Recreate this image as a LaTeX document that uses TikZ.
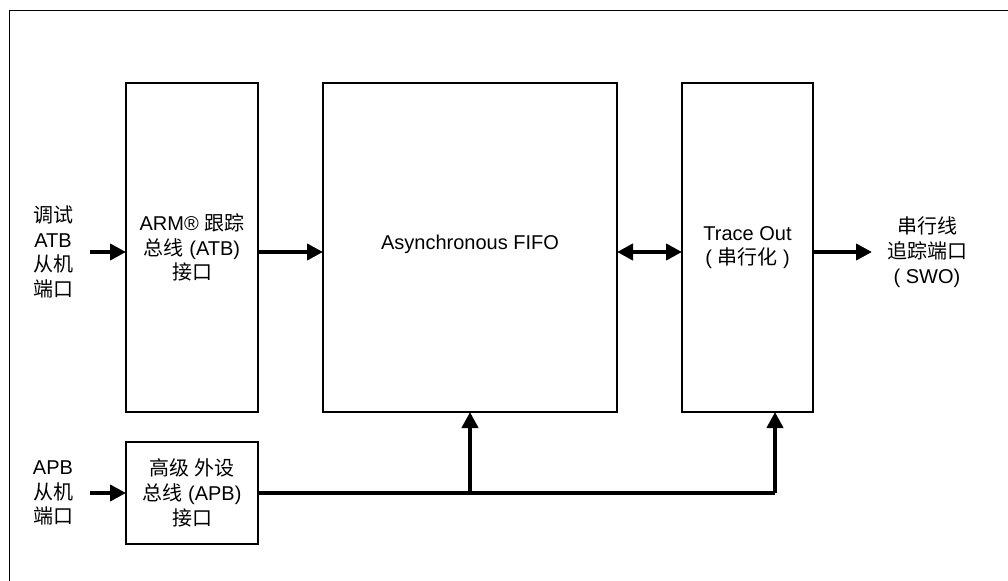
\documentclass[tikz,border=0pt]{standalone}
\usepackage{fontspec}
\setmainfont{Liberation Sans}
\newfontfamily\cjk{Noto Sans CJK SC}
\usetikzlibrary{arrows.meta}
\begin{document}
\begin{tikzpicture}[x=0.75pt,y=-0.75pt,
  box/.style={draw,line width=1.1pt,rectangle,inner sep=0pt,outer sep=0pt,align=center,font=\fontsize{15pt}{18.5pt}\selectfont},
  lbl/.style={align=center,font=\fontsize{15pt}{18.5pt}\selectfont,inner sep=0pt},
  tip/.tip={Triangle[length=12pt,width=12pt]},
  arr/.style={line width=3pt,-tip},
  darr/.style={line width=3pt,tip-tip},
  bus/.style={line width=3pt}]
\useasboundingbox (0,0) rectangle (1008,581);
% frame
\draw[line width=1.3pt] (9.5,581) -- (9.5,10.5) -- (1008,10.5);
% boxes
\node[box,minimum width=99pt,minimum height=246.75pt] (atb) at (192,247.5) {ARM® {\cjk 跟踪}\\{\cjk 总线} (ATB)\\{\cjk 接口}};
\node[box,minimum width=220.5pt,minimum height=246.75pt] (fifo) at (470,247.5) {};
\node[lbl] (fifot) at (470,244) {Asynchronous FIFO};
\node[box,minimum width=98.25pt,minimum height=246.75pt] (trace) at (747.5,247.5) {Trace Out\\( {\cjk 串行化} )};
\node[box,minimum width=99pt,minimum height=76.5pt] (apb) at (192,493) {{\cjk 高级} {\cjk 外设}\\{\cjk 总线} (APB)\\{\cjk 接口}};
% outside labels
\node[lbl] (atbin) at (53,252) {{\cjk 调试}\\ATB\\{\cjk 从机}\\{\cjk 端口}};
\node[lbl] (apbin) at (53,493) {APB\\{\cjk 从机}\\{\cjk 端口}};
\node[lbl] (swo) at (927,252) {{\cjk 串行线}\\{\cjk 追踪端口}\\( SWO)};
% coordinates
\coordinate (c1) at (90,252);
\coordinate (c2) at (872,252);
\coordinate (c3) at (90,493);
\coordinate (j1) at (470,493);
\coordinate (j2) at (775,493);
% connectors
\draw[arr] (c1) -- (c1 -| atb.west);
\draw[arr] (c1 -| atb.east) -- (c1 -| fifo.west);
\draw[darr] (c1 -| fifo.east) -- (c1 -| trace.west);
\draw[arr] (c1 -| trace.east) -- (c2);
\draw[arr] (c3) -- (apb.west);
\draw[bus] (apb.east) -- (j2);
\draw[arr] (j1) -- (j1 |- fifo.south);
\draw[arr] (j2) -- (j2 |- trace.south);
\end{tikzpicture}
\end{document}
